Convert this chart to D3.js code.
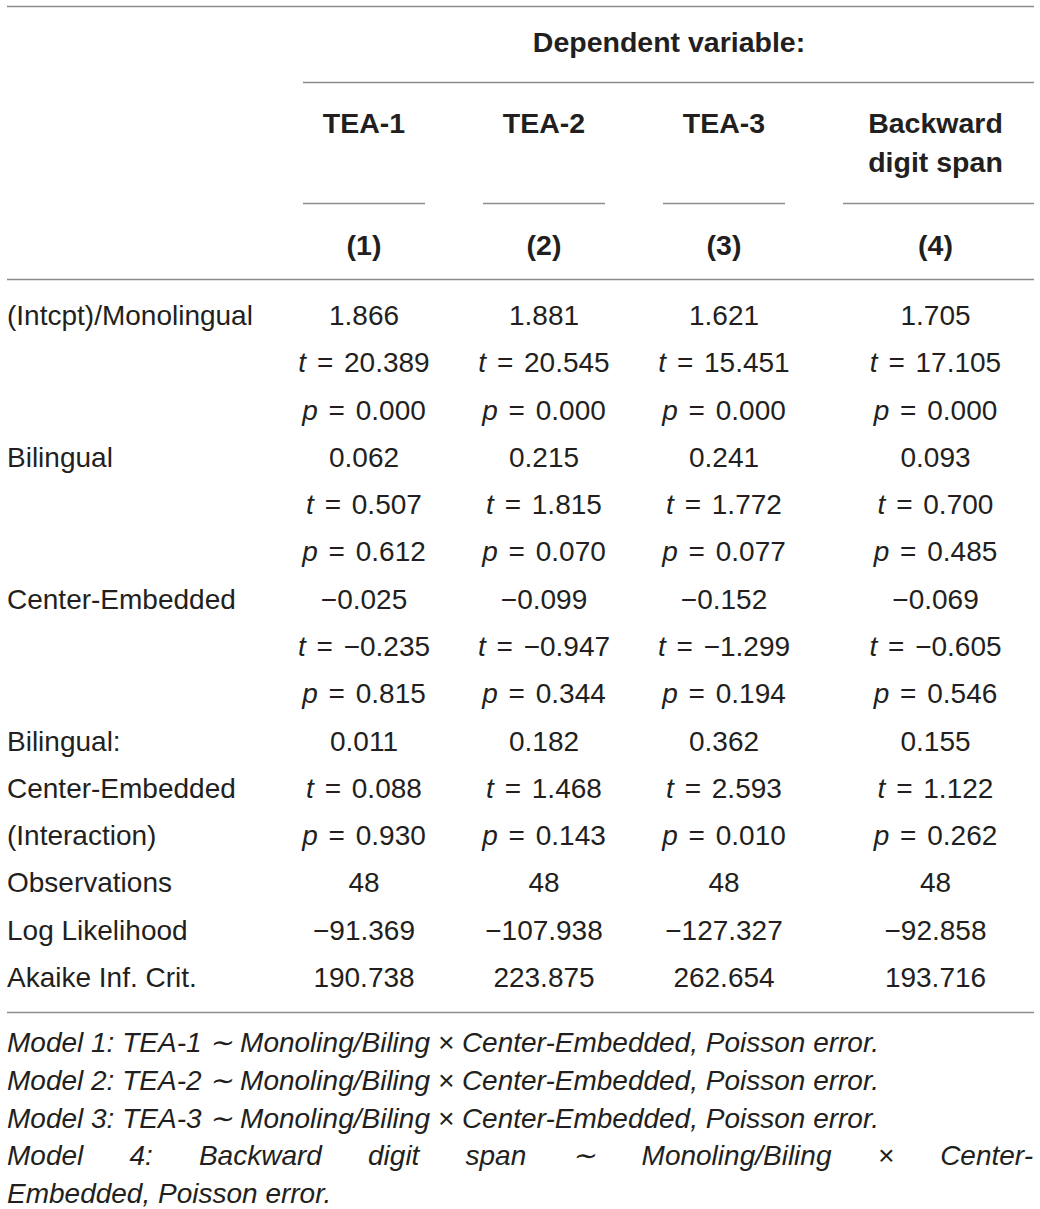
<!DOCTYPE html>
<html><head><meta charset="utf-8">
<script src="https://cdn.jsdelivr.net/npm/d3@7/dist/d3.min.js"></script>
<style>html,body{margin:0;padding:0;background:#fff;}</style>
</head><body>
<script>
// ---- data ----
const columns = ["TEA-1", "TEA-2", "TEA-3", "Backward digit span"];
const columnNumbers = ["(1)", "(2)", "(3)", "(4)"];
const headerTitle = "Dependent variable:";
const rowLabels = ["(Intcpt)/Monolingual", "", "", "Bilingual", "", "", "Center-Embedded", "", "",
  "Bilingual:", "Center-Embedded", "(Interaction)", "Observations", "Log Likelihood", "Akaike Inf. Crit."];
const intcptCoef = ["1.866", "1.881", "1.621", "1.705"];
const intcptT = ["20.389", "20.545", "15.451", "17.105"];
const intcptP = ["0.000", "0.000", "0.000", "0.000"];
const bilCoef = ["0.062", "0.215", "0.241", "0.093"];
const bilT = ["0.507", "1.815", "1.772", "0.700"];
const bilP = ["0.612", "0.070", "0.077", "0.485"];
const ceCoef = ["\u22120.025", "\u22120.099", "\u22120.152", "\u22120.069"];
const ceT = ["\u22120.235", "\u22120.947", "\u22121.299", "\u22120.605"];
const ceP = ["0.815", "0.344", "0.194", "0.546"];
const intCoef = ["0.011", "0.182", "0.362", "0.155"];
const intT = ["0.088", "1.468", "2.593", "1.122"];
const intP = ["0.930", "0.143", "0.010", "0.262"];
const observations = ["48", "48", "48", "48"];
const logLik = ["\u221291.369", "\u2212107.938", "\u2212127.327", "\u221292.858"];
const aic = ["190.738", "223.875", "262.654", "193.716"];
const notes = [
  "Model 1: TEA-1 \u223C Monoling/Biling \u00D7 Center-Embedded, Poisson error.",
  "Model 2: TEA-2 \u223C Monoling/Biling \u00D7 Center-Embedded, Poisson error.",
  "Model 3: TEA-3 \u223C Monoling/Biling \u00D7 Center-Embedded, Poisson error.",
  "Model 4: Backward digit span \u223C Monoling/Biling \u00D7 Center-",
  "Embedded, Poisson error."
];

// rows: [prefix, values]
const bodyRows = [
  [null, intcptCoef], ["t", intcptT], ["p", intcptP],
  [null, bilCoef], ["t", bilT], ["p", bilP],
  [null, ceCoef], ["t", ceT], ["p", ceP],
  [null, intCoef], ["t", intT], ["p", intP],
  [null, observations], [null, logLik], [null, aic]
];

// ---- layout ----
const W = 1040, H = 1209;
const svg = d3.select("body").append("svg").attr("width", W).attr("height", H);
const FONT = "'Liberation Sans', Arial, Helvetica, sans-serif";
const INK = "#231f20";
const RULE = "#8c8c8c";

const colLeft = d3.scaleOrdinal().domain(d3.range(4)).range([303, 483, 663, 843]);
const colRight = d3.scaleOrdinal().domain(d3.range(4)).range([425, 605, 785, 1034]);
const colCenter = i => (colLeft(i) + colRight(i)) / 2 - (i === 3 ? 3 : 0);
const rowY = d3.scaleLinear().domain([0, 14]).range([325, 987]);
const noteY = d3.scaleLinear().domain([0, 4]).range([1052, 1203]);

function hline(x1, x2, y) {
  svg.append("line").attr("x1", x1).attr("x2", x2).attr("y1", y).attr("y2", y)
    .attr("stroke", RULE).attr("stroke-width", 1.5);
}
hline(7, 1034, 6.5);
hline(303, 1034, 82.5);
d3.range(4).forEach(i => hline(colLeft(i), colRight(i), 203.5));
hline(7, 1034, 279.5);
hline(7, 1034, 1012.5);

const bold = {"font-family": FONT, "font-weight": "bold", "font-size": "28.5px", "fill": INK, "text-anchor": "middle"};
function applyAttrs(sel, a) { Object.entries(a).forEach(([k, v]) => sel.attr(k, v)); return sel; }

applyAttrs(svg.append("text"), bold).attr("x", 669).attr("y", 52).text(headerTitle);

columns.forEach((c, i) => {
  const words = c.split(" ");
  const lines = words.length > 2 ? [words[0], words.slice(1).join(" ")] : [c];
  lines.forEach((ln, j) => {
    applyAttrs(svg.append("text"), bold).attr("x", colCenter(i)).attr("y", 133 + j * 39).text(ln);
  });
  applyAttrs(svg.append("text"), bold).attr("x", colCenter(i)).attr("y", 255).text(columnNumbers[i]);
});

const body = {"font-family": FONT, "font-size": "28px", "fill": INK};

rowLabels.forEach((lab, r) => {
  if (!lab) return;
  applyAttrs(svg.append("text"), body).attr("x", 7).attr("y", rowY(r)).text(lab);
});

bodyRows.forEach(([pre, vals], r) => {
  vals.forEach((v, i) => {
    const t = applyAttrs(svg.append("text"), body).attr("text-anchor", "middle")
      .attr("x", colCenter(i)).attr("y", rowY(r));
    if (pre) {
      t.attr("word-spacing", "3px");
      t.append("tspan").attr("font-style", "italic").text(pre);
      t.append("tspan").text(" = " + v);
    } else {
      t.text(v);
    }
  });
});

// footnotes
const noteAttrs = {"font-family": FONT, "font-style": "italic", "font-size": "28px", "fill": INK};
notes.forEach((n, k) => {
  if (k === 3) {
    // justified line
    const words = n.split(" ");
    const g = svg.append("g");
    const nodes = words.map(w => applyAttrs(g.append("text"), noteAttrs).attr("y", noteY(k)).text(w));
    const widths = nodes.map(s => s.node().getComputedTextLength());
    const total = d3.sum(widths);
    const gap = (1033 - 7 - total) / (words.length - 1);
    let x = 7;
    nodes.forEach((s, j) => {
      s.attr("x", x);
      x += widths[j] + gap;
    });
  } else {
    applyAttrs(svg.append("text"), noteAttrs).attr("x", 7).attr("y", noteY(k)).text(n);
  }
});
</script>
</body></html>
